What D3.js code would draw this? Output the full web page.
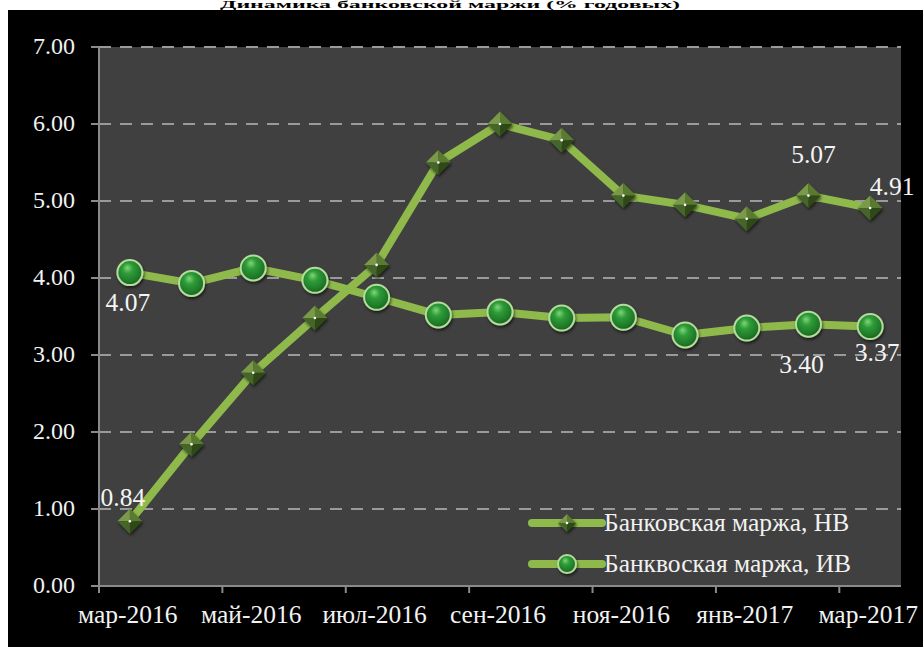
<!DOCTYPE html>
<html>
<head>
<meta charset="utf-8">
<script src="https://cdn.jsdelivr.net/npm/d3@7"></script>
<style>
  html, body { margin: 0; padding: 0; background: #fff; }
  svg { display: block; }
</style>
</head>
<body>
<svg id="chart" width="923" height="647"></svg>
<script>
// chart data
const months = ["мар-2016", "апр-2016", "май-2016", "июн-2016", "июл-2016", "авг-2016", "сен-2016",
  "окт-2016", "ноя-2016", "дек-2016", "янв-2017", "фев-2017", "мар-2017"];
const marginNV = [0.84, 1.84, 2.77, 3.48, 4.17, 5.50, 6.00, 5.79, 5.07, 4.95, 4.77, 5.07, 4.91];
const marginIV = [4.07, 3.93, 4.13, 3.97, 3.75, 3.52, 3.56, 3.48, 3.49, 3.26, 3.35, 3.40, 3.37];
const yTicks = [0, 1, 2, 3, 4, 5, 6, 7];
const xLabelMonths = ["мар-2016", "май-2016", "июл-2016", "сен-2016", "ноя-2016", "янв-2017", "мар-2017"];
const seriesNames = ["Банковская маржа, НВ", "Банквоская маржа, ИВ"];
const titleText = "Динамика банковской маржи (% годовых)";
// which points carry a value label
const labelledNV = [0, 11, 12];
const labelledIV = [0, 11, 12];

const W = 923, H = 647;
const plot = { left: 99, right: 901, top: 47, bottom: 586 };
const lineColor = "#8fba4b";
const serif = "Liberation Serif";

const svg = d3.select("#chart").attr("font-family", serif);
const defs = svg.append("defs");

const ball = defs.append("radialGradient").attr("id", "ball")
  .attr("cx", "45%").attr("cy", "40%").attr("r", "60%").attr("fx", "40%").attr("fy", "30%");
ball.append("stop").attr("offset", "0%").attr("stop-color", "#7fd67a");
ball.append("stop").attr("offset", "35%").attr("stop-color", "#2f9c38");
ball.append("stop").attr("offset", "80%").attr("stop-color", "#1f7a29");
ball.append("stop").attr("offset", "100%").attr("stop-color", "#17621f");

const shadow = defs.append("filter").attr("id", "shadow")
  .attr("x", "-50%").attr("y", "-50%").attr("width", "200%").attr("height", "200%");
shadow.append("feDropShadow").attr("dx", 1).attr("dy", 2).attr("stdDeviation", 1.8)
  .attr("flood-color", "#000").attr("flood-opacity", 0.6);

// page frame
svg.append("text").attr("x", 220).attr("y", 8).attr("textLength", 460)
  .attr("lengthAdjust", "spacingAndGlyphs")
  .attr("font-size", 10).attr("font-weight", "bold").attr("fill", "#000").text(titleText);
svg.append("rect").attr("x", 8).attr("y", 10).attr("width", W - 8).attr("height", H - 10).attr("fill", "#000");
svg.append("rect").attr("x", plot.left).attr("y", plot.top)
  .attr("width", plot.right - plot.left).attr("height", plot.bottom - plot.top).attr("fill", "#404040");

const x = d3.scaleBand().domain(months).range([plot.left, plot.right]).padding(0);
const y = d3.scaleLinear().domain([0, 7]).range([plot.bottom, plot.top]);
const cx = m => x(m) + x.bandwidth() / 2;

// grid
svg.append("g").selectAll("line").data(yTicks.filter(d => d > 0)).join("line")
  .attr("x1", plot.left).attr("x2", plot.right)
  .attr("y1", d => y(d)).attr("y2", d => y(d))
  .attr("stroke", "#9a9a9a").attr("stroke-width", 2).attr("stroke-dasharray", "12,9");

// y axis
const yAxis = svg.append("g");
yAxis.append("line").attr("x1", plot.left).attr("x2", plot.left)
  .attr("y1", plot.top).attr("y2", plot.bottom).attr("stroke", "#8a8a8a").attr("stroke-width", 2);
yAxis.selectAll(".tick").data(yTicks).join("line").attr("class", "tick")
  .attr("x1", plot.left - 8).attr("x2", plot.left).attr("y1", d => y(d)).attr("y2", d => y(d))
  .attr("stroke", "#8a8a8a").attr("stroke-width", 2);
yAxis.selectAll("text").data(yTicks).join("text")
  .attr("x", 75).attr("y", d => y(d) + 7)
  .attr("text-anchor", "end").attr("font-size", 24).attr("fill", "#f2f2f2")
  .text(d => d3.format(".2f")(d));

// x axis
const xAxis = svg.append("g");
xAxis.append("line").attr("x1", plot.left).attr("x2", plot.right)
  .attr("y1", plot.bottom).attr("y2", plot.bottom).attr("stroke", "#8a8a8a").attr("stroke-width", 2);
xAxis.selectAll(".tick").data(xLabelMonths).join("line").attr("class", "tick")
  .attr("x1", d => x(d)).attr("x2", d => x(d))
  .attr("y1", plot.bottom).attr("y2", plot.bottom + 7)
  .attr("stroke", "#8a8a8a").attr("stroke-width", 2);
xAxis.selectAll("text").data(xLabelMonths).join("text")
  .attr("x", d => cx(d) - 2).attr("y", 623)
  .attr("text-anchor", "middle").attr("font-size", 25.5).attr("fill", "#f2f2f2")
  .text(d => d);

// markers
function diamond(g, r) {
  const f = [["#7a9a48", [0, -r], [-r, 0]], ["#5a7a30", [0, -r], [r, 0]],
    ["#2f4a16", [r, 0], [0, r]], ["#45652a", [0, r], [-r, 0]]];
  const m = g.append("g").attr("filter", "url(#shadow)");
  f.forEach(([c, a, b]) => m.append("path")
    .attr("d", `M0,0L${a[0]},${a[1]}L${b[0]},${b[1]}Z`).attr("fill", c));
  g.append("circle").attr("r", 1.3).attr("fill", "#fff");
}
function sphere(g, r) {
  g.append("circle").attr("r", r).attr("fill", "url(#ball)")
    .attr("stroke", "#b4dc9c").attr("stroke-width", 2).attr("filter", "url(#shadow)");
}

const line = d3.line().x((d, i) => cx(months[i])).y(d => y(d));
const series = [
  { name: seriesNames[0], values: marginNV, marker: diamond, size: 12.5, labels: labelledNV },
  { name: seriesNames[1], values: marginIV, marker: sphere, size: 12.5, labels: labelledIV }
];

// IV first so the NV line crosses over it
[series[1], series[0]].forEach(s => {
  svg.append("path").datum(s.values).attr("d", line).attr("fill", "none")
    .attr("stroke", lineColor).attr("stroke-width", 8).attr("stroke-linejoin", "round");
});
[series[1], series[0]].forEach(s => {
  svg.append("g").selectAll("g").data(s.values).join("g")
    .attr("transform", (d, i) => `translate(${cx(months[i])},${y(d)})`)
    .each(function () { s.marker(d3.select(this), s.size); });
});

// value labels
const labelShift = {
  "0-0": [-7, -15], "0-11": [5, -33], "0-12": [22, -13],
  "1-0": [-2, 38], "1-11": [-7, 49], "1-12": [7, 34]
};
series.forEach((s, si) => {
  s.labels.forEach(i => {
    const [dx, dy] = labelShift[`${si}-${i}`];
    svg.append("text")
      .attr("x", cx(months[i]) + dx).attr("y", y(s.values[i]) + dy)
      .attr("text-anchor", "middle").attr("font-size", 25.5).attr("fill", "#f5f5f5")
      .text(d3.format(".2f")(s.values[i]));
  });
});

// legend
const legend = svg.append("g");
series.forEach((s, i) => {
  const ly = 523 + i * 41;
  const g = legend.append("g").attr("transform", `translate(532,${ly})`);
  g.append("line").attr("x1", 0).attr("x2", 70).attr("stroke", lineColor)
    .attr("stroke-width", 8).attr("stroke-linecap", "round");
  s.marker(g.append("g").attr("transform", "translate(35,0)"), 9);
  g.append("text").attr("x", 72).attr("y", 8)
    .attr("font-size", 25.5).attr("fill", "#f2f2f2").text(s.name);
});
</script>
</body>
</html>
